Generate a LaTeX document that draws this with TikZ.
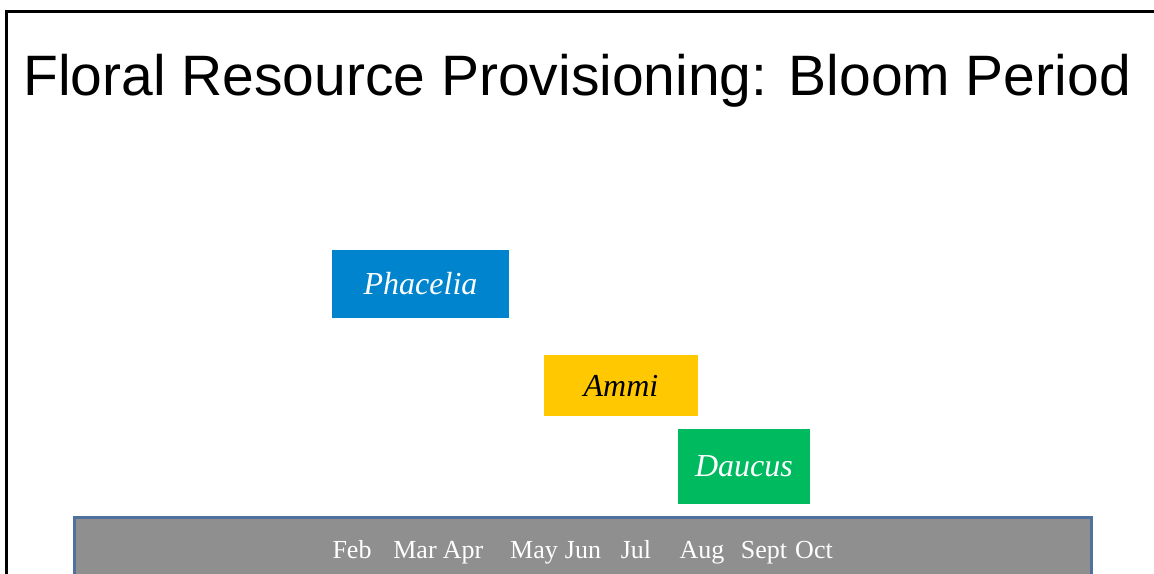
\documentclass[tikz,border=0pt]{standalone}
\usepackage{fontspec}
\setmainfont{Liberation Serif}
\newfontfamily\titlefont{Liberation Sans}

\definecolor{phaceliablue}{RGB}{0,132,206}
\definecolor{ammiyellow}{RGB}{255,200,0}
\definecolor{daucusgreen}{RGB}{0,186,95}
\definecolor{bargrey}{RGB}{143,143,143}
\definecolor{barblue}{RGB}{79,113,155}

\begin{document}
\begin{tikzpicture}[x=1pt,y=-1pt,
  bloom/.style={inner sep=0pt, text=white, font=\fontsize{32}{36}\selectfont\itshape},
  month/.style={inner sep=0pt, anchor=base, text=white, font=\fontsize{26}{30}\selectfont}]

% page size, everything below the bar is cut off
\useasboundingbox (0,0) rectangle (1154,573);
\clip (0,0) rectangle (1154,573);

% frame
\draw[line width=3pt] (6,580) -- (6,11) -- (1160,11);

% Title
\node[anchor=base west, inner sep=0pt, font=\titlefont\fontsize{57}{60}\selectfont]
  (title) at (23,95) {Floral Resource Provisioning: Bloom Period};

% Bloom periods
\node[bloom, fill=phaceliablue, minimum width=177pt, minimum height=68pt]
  (phacelia) at (420.5,284) {Phacelia};
\node[bloom, fill=ammiyellow, text=black, minimum width=154pt, minimum height=61pt]
  (ammi) at (621,385.5) {Ammi};
\node[bloom, fill=daucusgreen, minimum width=132pt, minimum height=75pt]
  (daucus) at (744,466.5) {Daucus};

% Month bar
\filldraw[fill=bargrey, draw=barblue, line width=3pt] (74,517) rectangle (1091,620);
\foreach \m/\x in {Feb/352, Mar/415, Apr/463, May/534, Jun/583,
                   Jul/636, Aug/702, Sept/764, Oct/814}
  \node[month] (m-\m) at (\x,558) {\m};

\end{tikzpicture}
\end{document}
